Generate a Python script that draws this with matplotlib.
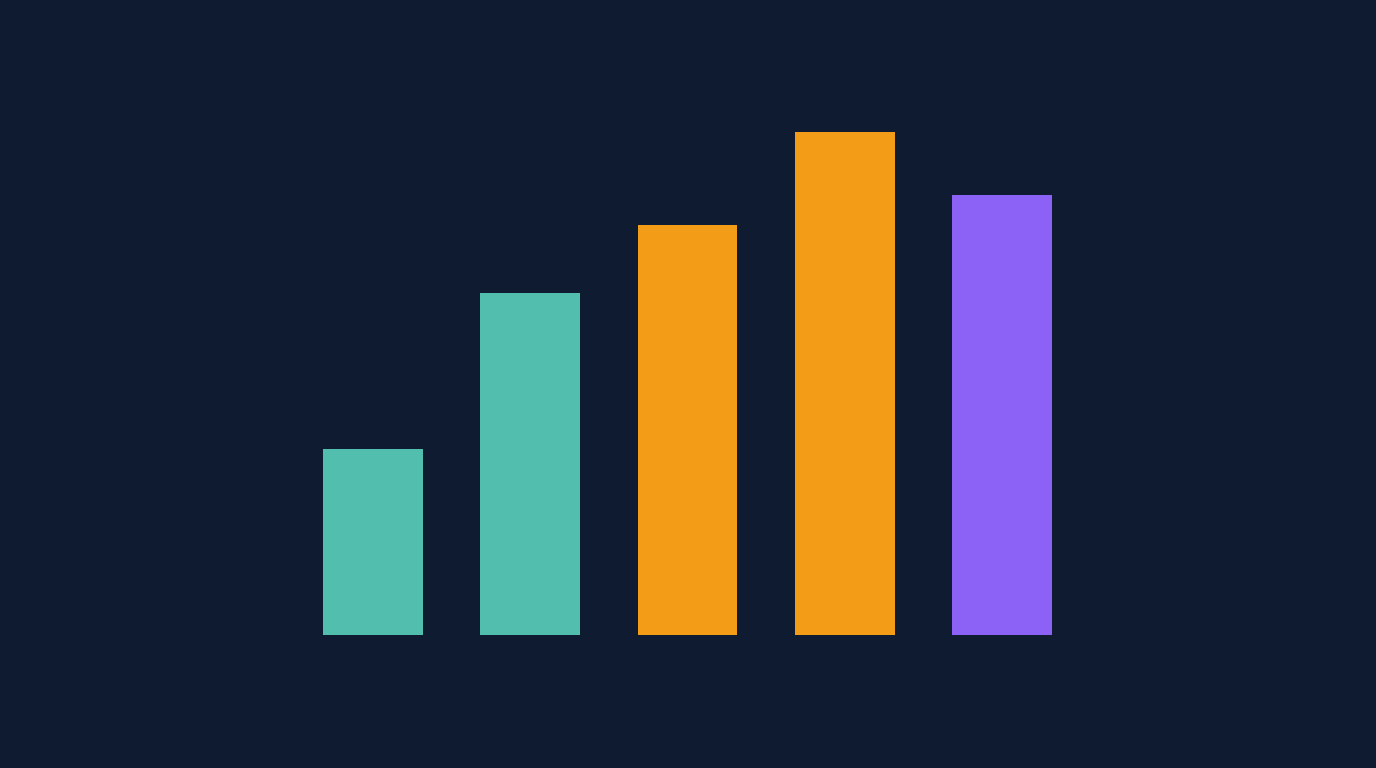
import matplotlib
matplotlib.use("Agg")
import matplotlib.pyplot as plt

categories = ["A", "B", "C", "D", "E"]
values = [186, 342, 410, 503, 440]
colors = ["#52BFAE", "#52BFAE", "#F39C18", "#F39C18", "#8B62F5"]

bg = "#0F1B31"
fig = plt.figure(figsize=(13.76, 7.68), dpi=100, facecolor=bg)
ax = fig.add_axes([0, 0, 1, 1])
ax.set_facecolor(bg)
x = list(range(len(categories)))
ax.bar(x, values, width=0.635, color=colors, linewidth=0)
px = 157.25
ax.set_xlim(-373 / px, (1376 - 373) / px)
ax.set_ylim(-133, 635)
ax.axis("off")
fig.savefig("out.png", dpi=100, facecolor=bg)
